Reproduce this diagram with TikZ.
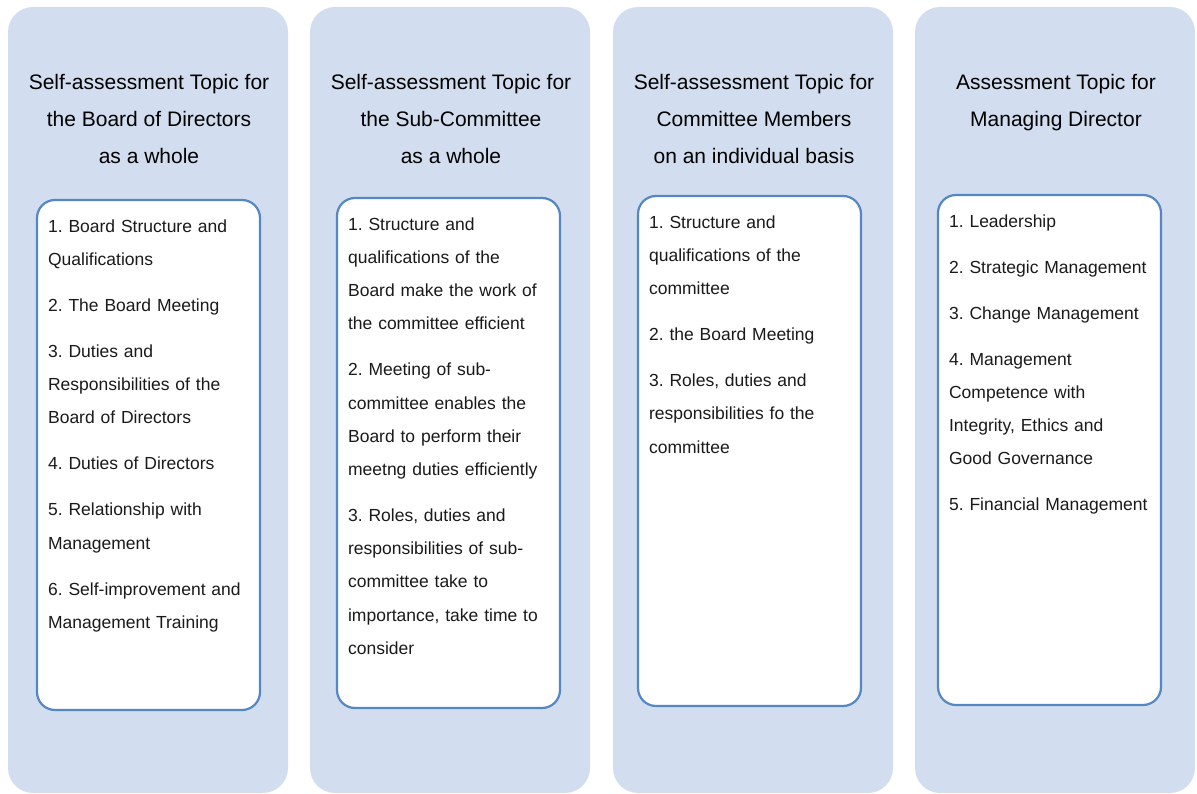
\documentclass[tikz,border=0pt]{standalone}
\usepackage{fontspec}
\setmainfont{Liberation Sans}
\frenchspacing
\usetikzlibrary{positioning}
\definecolor{colBack}{HTML}{D2DEEF}
\definecolor{boxFrame}{HTML}{5587C2}
\definecolor{itemText}{HTML}{1A1A1A}

\begin{document}
\begin{tikzpicture}[x=1pt,y=-1pt,
  column/.style={fill=colBack,rounded corners=25pt,minimum width=280pt,minimum height=786pt,inner sep=0pt},
  topic/.style={anchor=north,align=center,inner sep=0pt,font=\fontsize{21}{37}\selectfont},
  itembox/.style={draw=boxFrame,line width=2.2pt,fill=white,rounded corners=18pt,minimum width=223pt,minimum height=510pt,inner sep=0pt},
  itemlist/.style={below right=20.5pt and 12pt of #1,align=left,text width=206pt,inner sep=0pt,text=itemText,font=\fontsize{17.5}{33.2}\selectfont}]
\useasboundingbox (0,0) rectangle (1197,794);
% columns
\node[column] (c1) at (148,400) {};
\node[column] (c2) at (450,400) {};
\node[column] (c3) at (753,400) {};
\node[column] (c4) at (1055,400) {};
% topics
\node[topic] (h1) at (149,74) {Self-assessment Topic for\\the Board of Directors\\as a whole};
\node[topic] (h2) at (451,74) {Self-assessment Topic for\\the Sub-Committee\\as a whole};
\node[topic] (h3) at (754,74) {Self-assessment Topic for\\Committee Members\\on an individual basis};
\node[topic] (h4) at (1056,74) {Assessment Topic for\\Managing Director};
% item boxes
\node[itembox] (b1) at (148.5,455) {};
\node[itembox] (b2) at (448.5,453) {};
\node[itembox] (b3) at (749.5,451) {};
\node[itembox] (b4) at (1049.5,450) {};
\node[itemlist=b1.north west] (t1) {1. Board Structure and\\Qualifications\\[12.8pt]2. The Board Meeting\\[12.8pt]3. Duties and\\Responsibilities of the\\Board of Directors\\[12.8pt]4. Duties of Directors\\[12.8pt]5. Relationship with\\Management\\[12.8pt]6. Self-improvement and\\Management Training};
\node[itemlist=b2.north west] (t2) {1. Structure and\\qualifications of the\\Board make the work of\\the committee efficient\\[12.8pt]2. Meeting of sub-\\committee enables the\\Board to perform their\\meetng duties efficiently\\[12.8pt]3. Roles, duties and\\responsibilities of sub-\\committee take to\\importance, take time to\\consider};
\node[itemlist=b3.north west] (t3) {1. Structure and\\qualifications of the\\committee\\[12.8pt]2. the Board Meeting\\[12.8pt]3. Roles, duties and\\responsibilities fo the\\committee};
\node[itemlist=b4.north west] (t4) {1. Leadership\\[12.8pt]2. Strategic Management\\[12.8pt]3. Change Management\\[12.8pt]4. Management\\Competence with\\Integrity, Ethics and\\Good Governance\\[12.8pt]5. Financial Management};
\end{tikzpicture}
\end{document}
